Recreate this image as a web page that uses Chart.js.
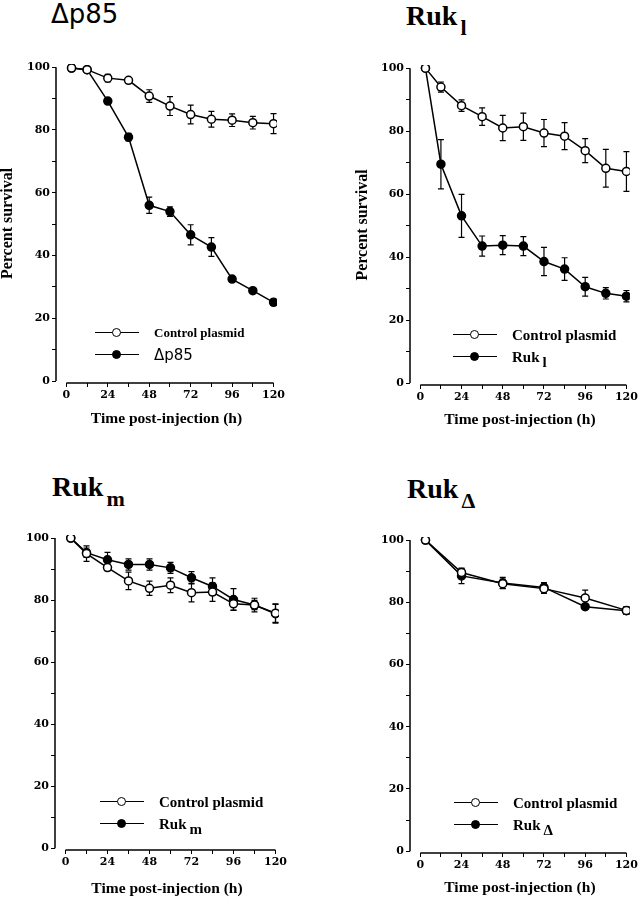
<!DOCTYPE html>
<html>
<head>
<meta charset="utf-8">
<script src="https://cdn.jsdelivr.net/npm/chart.js@4.4.0/dist/chart.umd.min.js"></script>
<style>
body{margin:0;background:#fff;width:640px;height:899px;position:relative;overflow:hidden;font-family:'Liberation Serif',serif;color:#000;}
canvas{position:absolute;}
.title{position:absolute;font-weight:bold;font-size:28px;line-height:29px;white-space:nowrap;}
.title sub{font-size:22px;vertical-align:-10px;line-height:0;margin-left:3px;}
.sans{font-family:'DejaVu Sans',sans-serif;font-weight:normal;}
.legend{position:absolute;font-weight:bold;white-space:nowrap;}
.row{display:flex;align-items:center;height:22px;}
.row sub{font-size:1em;vertical-align:-5px;line-height:0;margin-left:3px;}
.icon{position:relative;width:44px;height:10px;margin-right:15px;flex:none;}
.icon:before{content:'';position:absolute;left:0;right:0;top:4px;border-top:1.5px solid #000;}
.icon i{position:absolute;left:17px;top:0;width:7px;height:7px;border:1.5px solid #000;border-radius:50%;background:#fff;}
.icon.fill i{background:#000;}
</style>
</head>
<body>

<div class="title sans" style="left:51px;top:0px;font-size:26px;">Δp85</div>
<div class="title" style="left:406px;top:1px;">Ruk<sub>l</sub></div>
<div class="title" style="left:52px;top:472px;">Ruk<sub>m</sub></div>
<div class="title" style="left:407px;top:474px;">Ruk<sub>Δ</sub></div>

<canvas id="c1" width="320" height="430" style="left:0;top:0"></canvas>
<canvas id="c2" width="320" height="430" style="left:320px;top:0"></canvas>
<canvas id="c3" width="320" height="459" style="left:0;top:440px"></canvas>
<canvas id="c4" width="320" height="459" style="left:320px;top:440px"></canvas>

<div class="legend" style="left:95px;top:322px;font-size:13px;">
  <div class="row"><span class="icon"><i></i></span><span>Control plasmid</span></div>
  <div class="row"><span class="icon fill"><i></i></span><span class="sans" style="font-size:15px">Δp85</span></div>
</div>
<div class="legend" style="left:453px;top:324px;font-size:15px;">
  <div class="row"><span class="icon"><i></i></span><span>Control plasmid</span></div>
  <div class="row"><span class="icon fill"><i></i></span><span>Ruk<sub>l</sub></span></div>
</div>
<div class="legend" style="left:100px;top:791px;font-size:15px;">
  <div class="row"><span class="icon"><i></i></span><span>Control plasmid</span></div>
  <div class="row"><span class="icon fill"><i></i></span><span>Ruk<sub>m</sub></span></div>
</div>
<div class="legend" style="left:454px;top:792px;font-size:15px;">
  <div class="row"><span class="icon"><i></i></span><span>Control plasmid</span></div>
  <div class="row"><span class="icon fill"><i></i></span><span>Ruk<sub>Δ</sub></span></div>
</div>

<script>
// time points (h)
const hours = [3, 12, 24, 36, 48, 60, 72, 84, 96, 108, 120];
const hoursDelta = [3, 24, 48, 72, 96, 120];

// Δp85 panel
const p85Control = [99.7, 99.2, 96.5, 95.8, 90.8, 87.6, 84.9, 83.4, 83.1, 82.3, 82.0];
const p85ControlErr = [0, 0.5, 1.2, 0.6, 2.0, 3.0, 3.0, 2.5, 2.0, 2.0, 3.2];
const p85Mut = [99.7, 99.2, 89.2, 77.7, 56.0, 54.0, 46.6, 42.7, 32.5, 28.8, 25.1];
const p85MutErr = [0, 0, 0.6, 1.2, 2.6, 1.5, 3.2, 3.0, 0.6, 0.5, 1.0];

// Ruk l panel
const rukLControl = [100, 94.0, 88.1, 84.6, 81.0, 81.4, 79.4, 78.4, 73.8, 68.2, 67.2];
const rukLControlErr = [0, 1.6, 1.8, 2.8, 4.0, 4.3, 4.3, 4.3, 3.8, 6.0, 6.3];
const rukL = [100, 69.5, 53.1, 43.5, 43.8, 43.5, 38.6, 36.2, 30.6, 28.5, 27.6];
const rukLErr = [0, 7.8, 6.8, 3.2, 3.0, 3.0, 4.5, 3.6, 3.0, 1.8, 1.8];

// Ruk m panel
const rukMControl = [100, 95.0, 90.5, 86.2, 83.8, 84.8, 82.4, 82.6, 78.8, 78.4, 75.8];
const rukMControlErr = [0, 2.5, 1.0, 2.8, 2.3, 2.4, 3.0, 3.0, 2.0, 2.2, 3.0];
const rukM = [100, 95.3, 93.0, 91.5, 91.5, 90.4, 87.2, 84.4, 80.2, 78.4, 75.6];
const rukMErr = [0, 1.5, 2.4, 1.8, 1.8, 1.8, 2.0, 2.8, 3.5, 1.5, 3.0];

// Ruk Δ panel
const rukDControl = [100, 89.6, 86.0, 84.4, 81.4, 77.4];
const rukDControlErr = [0, 1.2, 1.5, 1.5, 2.5, 1.2];
const rukD = [100, 88.5, 86.2, 84.8, 78.6, 77.3];
const rukDErr = [0, 2.5, 1.8, 1.5, 0.8, 1.2];

const xTicks = [0, 12, 24, 36, 48, 60, 72, 84, 96, 108, 120];
const yTicks = [0, 10, 20, 30, 40, 50, 60, 70, 80, 90, 100];

Chart.defaults.font.family = "'Liberation Serif', serif";
Chart.defaults.font.weight = 'bold';
Chart.defaults.color = '#000';

const tickFont = {family: "'DejaVu Serif', serif", size: 11, weight: 'bold'};

function pts(xs, ys) {
  return xs.map((x, i) => ({x: x, y: ys[i]}));
}

// error bars drawn under the markers
const errorBars = {
  id: 'errorBars',
  beforeDatasetsDraw(chart) {
    const ctx = chart.ctx, sx = chart.scales.x, sy = chart.scales.y;
    ctx.save();
    ctx.strokeStyle = '#000';
    ctx.lineWidth = 1.2;
    chart.data.datasets.forEach(ds => {
      ds.data.forEach((p, i) => {
        const e = ds.errors[i];
        if (!e) return;
        const px = sx.getPixelForValue(p.x);
        const t = sy.getPixelForValue(p.y + e), b = sy.getPixelForValue(p.y - e);
        ctx.beginPath();
        ctx.moveTo(px, t); ctx.lineTo(px, b);
        ctx.moveTo(px - 3, t); ctx.lineTo(px + 3, t);
        ctx.moveTo(px - 3, b); ctx.lineTo(px + 3, b);
        ctx.stroke();
      });
    });
    ctx.restore();
  }
};

// separated axis lines, only over the data range
const axisLines = {
  id: 'axisLines',
  afterDraw(chart) {
    const ctx = chart.ctx, sx = chart.scales.x, sy = chart.scales.y, a = chart.chartArea;
    ctx.save();
    ctx.strokeStyle = '#000';
    ctx.lineWidth = 1.5;
    ctx.beginPath();
    ctx.moveTo(a.left, sy.getPixelForValue(0)); ctx.lineTo(a.left, sy.getPixelForValue(100));
    ctx.moveTo(sx.getPixelForValue(0), a.bottom); ctx.lineTo(sx.getPixelForValue(120), a.bottom);
    ctx.stroke();
    ctx.restore();
  }
};

function makeChart(id, o) {
  new Chart(document.getElementById(id), {
    type: 'line',
    data: {
      datasets: [
        {data: pts(o.x, o.ctrl), errors: o.ctrlErr, borderColor: '#000', borderWidth: 1.5,
         pointRadius: 4, pointBorderWidth: 1.5, pointBackgroundColor: '#fff', pointBorderColor: '#000'},
        {data: pts(o.x, o.mut), errors: o.mutErr, borderColor: '#000', borderWidth: 1.5,
         pointRadius: 4, pointBorderWidth: 1.5, pointBackgroundColor: '#000', pointBorderColor: '#000'}
      ]
    },
    options: {
      responsive: false,
      animation: false,
      layout: {padding: o.pad},
      plugins: {legend: {display: false}, tooltip: {enabled: false}},
      scales: {
        x: {
          type: 'linear', min: -6, max: 122,
          afterBuildTicks: s => { s.ticks = xTicks.map(v => ({value: v})); },
          afterFit: s => { s.height = o.xH; },
          grid: {drawOnChartArea: false, drawTicks: true, tickLength: 4, color: '#000', lineWidth: 1},
          border: {display: false},
          ticks: {autoSkip: false, maxRotation: 0, padding: 2, font: tickFont,
                  callback: v => (v % 24 === 0 ? v : '')},
          title: {display: true, text: 'Time post-injection (h)', font: {size: 15.5, lineHeight: 1},
                  padding: {top: 0, bottom: o.xTitlePad}}
        },
        y: {
          min: -0.6, max: 101,
          afterBuildTicks: s => { s.ticks = yTicks.map(v => ({value: v})); },
          afterFit: s => { s.width = o.yW; },
          grid: {drawOnChartArea: false, drawTicks: true, tickLength: 4, color: '#000', lineWidth: 1},
          border: {display: false},
          ticks: {autoSkip: false, padding: 2, font: tickFont,
                  callback: v => (v % 20 === 0 ? v : '')},
          title: {display: o.yTitle, text: 'Percent survival', font: {size: 16, lineHeight: 1},
                  padding: {top: o.yTitlePad, bottom: 0}}
        }
      }
    },
    plugins: [errorBars, axisLines]
  });
}

makeChart('c1', {x: hours, ctrl: p85Control, ctrlErr: p85ControlErr, mut: p85Mut, mutErr: p85MutErr,
  pad: {top: 64, right: 43, left: 0, bottom: 0}, yW: 56, xH: 47, xTitlePad: 3,
  yTitle: true, yTitlePad: 0});
makeChart('c2', {x: hours, ctrl: rukLControl, ctrlErr: rukLControlErr, mut: rukL, mutErr: rukLErr,
  pad: {top: 65, right: 6, left: 0, bottom: 0}, yW: 90, xH: 45, xTitlePad: 2,
  yTitle: true, yTitlePad: 35});
makeChart('c3', {x: hours, ctrl: rukMControl, ctrlErr: rukMControlErr, mut: rukM, mutErr: rukMErr,
  pad: {top: 95, right: 41, left: 0, bottom: 0}, yW: 55, xH: 49, xTitlePad: 2,
  yTitle: false, yTitlePad: 0});
makeChart('c4', {x: hoursDelta, ctrl: rukDControl, ctrlErr: rukDControlErr, mut: rukD, mutErr: rukDErr,
  pad: {top: 97, right: 7, left: 0, bottom: 0}, yW: 90, xH: 46, xTitlePad: 3,
  yTitle: false, yTitlePad: 0});
</script>
</body>
</html>
